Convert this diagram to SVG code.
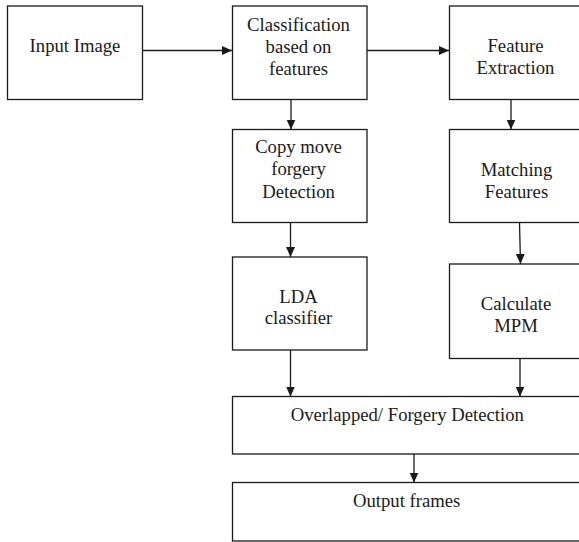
<svg xmlns="http://www.w3.org/2000/svg" width="579" height="542" viewBox="0 0 579 542">
  <style>
    .box { fill: #ffffff; stroke: #1a1a1a; stroke-width: 1.3; }
    .lbl { font-size: 18.7px; fill: #1a1a1a; text-anchor: middle; }
    .edge { fill: none; stroke: #1a1a1a; stroke-width: 1.3; marker-end: url(#arrow); }
  </style>
  <defs>
    <marker id="arrow" markerUnits="userSpaceOnUse" markerWidth="10" markerHeight="10" viewBox="0 0 10 10" refX="10" refY="5" orient="auto">
      <path d="M0,0.5 L10,5 L0,9.5 Z" fill="#1a1a1a"/>
    </marker>
  </defs>
  <rect width="579" height="542" fill="#ffffff"/>

  <g id="connectors">
    <line class="edge" x1="142.5" y1="50.5" x2="232" y2="50.5"/>
    <line class="edge" x1="367" y1="50.5" x2="449" y2="50.5"/>
    <line class="edge" x1="291" y1="99.5" x2="291" y2="129.5"/>
    <line class="edge" x1="511" y1="99.5" x2="511" y2="129.5"/>
    <line class="edge" x1="290.5" y1="222.5" x2="290.5" y2="257"/>
    <line class="edge" x1="519.5" y1="222.5" x2="520.5" y2="264"/>
    <line class="edge" x1="290.5" y1="350" x2="290.5" y2="396.5"/>
    <line class="edge" x1="520" y1="358.5" x2="520" y2="396.5"/>
    <line class="edge" x1="414" y1="454" x2="414" y2="482.5"/>
  </g>

  <g font-family="Liberation Serif, Times New Roman, serif">
    <g id="input-image">
      <rect class="box" x="7.5" y="6" width="135" height="93.5"/>
      <text class="lbl" x="75" y="51.5">Input Image</text>
    </g>

    <g id="classification">
      <rect class="box" x="232.5" y="6" width="134.5" height="93.5"/>
      <text class="lbl" x="298.5" y="30.7">Classification</text>
      <text class="lbl" x="298.5" y="53.2">based on</text>
      <text class="lbl" x="298.5" y="75.2">features</text>
    </g>

    <g id="feature-extraction">
      <rect class="box" x="449.5" y="6" width="135" height="93.5"/>
      <text class="lbl" x="515.5" y="51.7">Feature</text>
      <text class="lbl" x="515.5" y="73.5">Extraction</text>
    </g>

    <g id="copy-move">
      <rect class="box" x="232.5" y="129.5" width="134.5" height="93"/>
      <text class="lbl" x="298.5" y="153.3">Copy move</text>
      <text class="lbl" x="298.5" y="175.3">forgery</text>
      <text class="lbl" x="298.5" y="197.5">Detection</text>
    </g>

    <g id="matching-features">
      <rect class="box" x="449.5" y="129.5" width="135" height="93"/>
      <text class="lbl" x="516.5" y="176">Matching</text>
      <text class="lbl" x="516.5" y="198.3">Features</text>
    </g>

    <g id="lda-classifier">
      <rect class="box" x="232.5" y="257" width="134.5" height="93"/>
      <text class="lbl" x="298.5" y="302.7">LDA</text>
      <text class="lbl" x="298.5" y="324.3">classifier</text>
    </g>

    <g id="calculate-mpm">
      <rect class="box" x="449.5" y="264" width="135" height="94.5"/>
      <text class="lbl" x="516" y="310">Calculate</text>
      <text class="lbl" x="516" y="331.7">MPM</text>
    </g>

    <g id="overlapped-detection">
      <rect class="box" x="232.5" y="396.5" width="350" height="57.5"/>
      <text class="lbl" x="407.3" y="421.2">Overlapped/ Forgery Detection</text>
    </g>

    <g id="output-frames">
      <rect class="box" x="232.5" y="482.5" width="350" height="58.5"/>
      <text class="lbl" x="406.7" y="506.7">Output frames</text>
    </g>
  </g>
</svg>
